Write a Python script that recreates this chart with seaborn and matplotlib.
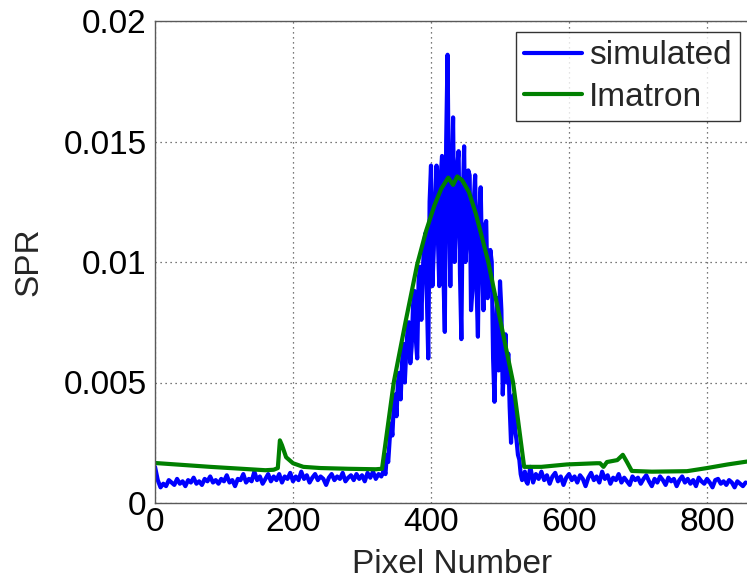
import numpy as np
import pandas as pd
import matplotlib
matplotlib.use("Agg")
import matplotlib.pyplot as plt
import seaborn as sns

# ---------------- data ----------------
# simulated SPR: baseline segments sampled every 4 pixels, peak every 2 pixels
sim_left = [0.00150, 0.00095, 0.00065, 0.00080, 0.00070, 0.00095, 0.00085, 0.00075, 0.00100, 0.00080,
            0.00090, 0.00070, 0.00095, 0.00085, 0.00105, 0.00080, 0.00090, 0.00075, 0.00100, 0.00090,
            0.00110, 0.00085, 0.00095, 0.00080, 0.00100, 0.00090, 0.00115, 0.00085, 0.00095, 0.00070,
            0.00100, 0.00095, 0.00120, 0.00085, 0.00100, 0.00090, 0.00130, 0.00095, 0.00110, 0.00080,
            0.00100, 0.00120, 0.00090, 0.00110, 0.00095, 0.00120, 0.00085, 0.00110, 0.00100, 0.00125,
            0.00090, 0.00110, 0.00095, 0.00130, 0.00100, 0.00115, 0.00085, 0.00105, 0.00120, 0.00095,
            0.00110, 0.00100, 0.00075, 0.00105, 0.00120, 0.00095, 0.00110, 0.00100, 0.00125, 0.00090,
            0.00105, 0.00115, 0.00095, 0.00120, 0.00100, 0.00115, 0.00090, 0.00125, 0.00105, 0.00130,
            0.00100, 0.00120, 0.00110]
sim_peak = [0.00140, 0.00120, 0.00200, 0.00170, 0.00260, 0.00330, 0.00280, 0.00400, 0.00450, 0.00360,
            0.00500, 0.00540, 0.00430, 0.00580, 0.00660, 0.00500, 0.00620, 0.00720, 0.00750, 0.00580,
            0.00650, 0.00820, 0.00880, 0.00680, 0.00600, 0.00920, 0.00980, 0.00760, 0.00950, 0.01080,
            0.01120, 0.00850, 0.00600, 0.01250, 0.01400, 0.00900, 0.01050, 0.01250, 0.01400, 0.01100,
            0.00900, 0.01350, 0.01440, 0.00950, 0.00710, 0.01500, 0.01860, 0.01250, 0.00900, 0.01300,
            0.01600, 0.01000, 0.01150, 0.01400, 0.01460, 0.00950, 0.00680, 0.01250, 0.01480, 0.01000,
            0.01100, 0.01380, 0.01360, 0.00800, 0.00880, 0.01250, 0.01360, 0.00900, 0.00690, 0.01200,
            0.01310, 0.01000, 0.00800, 0.01150, 0.01170, 0.00850, 0.00950, 0.01050, 0.01000, 0.00600,
            0.00420, 0.00700, 0.00850, 0.00550, 0.00920, 0.00800, 0.00450, 0.00600, 0.00700, 0.00500,
            0.00620, 0.00400, 0.00250, 0.00380, 0.00450, 0.00300, 0.00260, 0.00200, 0.00180, 0.00120,
            0.00095, 0.00110, 0.00130, 0.00090, 0.00080]
sim_right = [0.00150, 0.00085, 0.00120, 0.00100, 0.00130, 0.00095, 0.00115, 0.00080, 0.00110, 0.00125,
             0.00090, 0.00110, 0.00075, 0.00105, 0.00120, 0.00095, 0.00110, 0.00085, 0.00115, 0.00100,
             0.00070, 0.00105, 0.00125, 0.00095, 0.00110, 0.00085, 0.00130, 0.00100, 0.00115, 0.00080,
             0.00105, 0.00095, 0.00120, 0.00085, 0.00105, 0.00090, 0.00075, 0.00110, 0.00095, 0.00105,
             0.00080, 0.00100, 0.00115, 0.00090, 0.00070, 0.00100, 0.00085, 0.00110, 0.00095, 0.00075,
             0.00105, 0.00090, 0.00100, 0.00070, 0.00095, 0.00110, 0.00085, 0.00100, 0.00080, 0.00095,
             0.00070, 0.00105, 0.00090, 0.00080, 0.00100, 0.00085, 0.00065, 0.00095, 0.00100, 0.00080,
             0.00090, 0.00075, 0.00095, 0.00085, 0.00065, 0.00090, 0.00080, 0.00070, 0.00085]
sim_left_start, sim_peak_start, sim_right_start = 0, 332, 544
base_step, peak_step = 4, 2

# Imatron SPR profile (pixel, value)
ima_x = [0, 40, 80, 120, 160, 172, 178, 181, 184, 190, 200, 215, 240, 280, 320, 329,
         346, 363, 380, 393, 405, 415, 425, 432, 438, 445, 455, 465, 475, 483, 501, 519, 535,
         560, 597, 640, 645, 650, 655, 670, 678, 684, 691, 720, 771, 800, 830, 858]
ima_y = [0.00166, 0.00158, 0.00150, 0.00143, 0.00136, 0.00138, 0.00145, 0.00260, 0.00240, 0.00190,
         0.00165, 0.00150, 0.00145, 0.00142, 0.00140, 0.00142,
         0.00500, 0.00750, 0.00990, 0.01130, 0.01235, 0.01305, 0.01350, 0.01320, 0.01355, 0.01340,
         0.01290, 0.01200, 0.01090, 0.01000, 0.00750, 0.00500, 0.00150,
         0.00150, 0.00160, 0.00165, 0.00165, 0.00150, 0.00170, 0.00178, 0.00200, 0.00170, 0.00133,
         0.00130, 0.00132, 0.00145, 0.00160, 0.00172]

x_ticks = [0, 200, 400, 600, 800]
y_ticks = [0, 0.005, 0.01, 0.015, 0.02]
y_tick_labels = ["0", "0.005", "0.01", "0.015", "0.02"]
series_names = ["simulated", "Imatron"]

# ---------------- frame ----------------
sim_x = np.concatenate([sim_left_start + base_step * np.arange(len(sim_left)),
                        sim_peak_start + peak_step * np.arange(len(sim_peak)),
                        sim_right_start + base_step * np.arange(len(sim_right))])
sim_y = np.array(sim_left + sim_peak + sim_right)
df = pd.concat([
    pd.DataFrame({"x": sim_x, "y": sim_y, "series": series_names[0]}),
    pd.DataFrame({"x": ima_x, "y": ima_y, "series": series_names[1]}),
], ignore_index=True)

sns.set_style("white")
plt.rcParams["font.family"] = ["Liberation Sans", "DejaVu Sans"]

W, H = 747, 582
fig = plt.figure(figsize=(W / 100, H / 100), dpi=100)
left_px, top_px, bottom_px = 155, 21, 503
xmax = 860
right_px = left_px + xmax * 0.69
ax = fig.add_axes([left_px / W, 1 - bottom_px / H, (right_px - left_px) / W, (bottom_px - top_px) / H])

palette = {series_names[0]: "#0000ff", series_names[1]: "#008000"}
sns.lineplot(data=df[df.series == series_names[0]], x="x", y="y", color=palette[series_names[0]],
             estimator=None, sort=False, lw=3.0, ax=ax, label=series_names[0])
sns.lineplot(data=df[df.series == series_names[1]], x="x", y="y", color=palette[series_names[1]],
             estimator=None, sort=False, lw=3.0, ax=ax, label=series_names[1])

fs = 24
ax.set_xlim(0, xmax)
ax.set_ylim(0, 0.02)
ax.set_xticks(x_ticks)
ax.set_xticklabels([str(t) for t in x_ticks])
ax.set_yticks(y_ticks)
ax.set_yticklabels(y_tick_labels)
ax.grid(True, linestyle=(0, (1, 3)), color="0.3", linewidth=0.9)
ax.tick_params(axis="both", direction="in", length=5, width=0.8, labelsize=fs, colors="0.3",
               labelcolor="black")
ax.tick_params(axis="x", pad=3)
ax.tick_params(axis="y", pad=6)
for s in ax.spines.values():
    s.set_color("0.35")
    s.set_linewidth(1.0)

ax.set_xlabel("Pixel Number", fontsize=fs, labelpad=8)
ax.set_ylabel("SPR", fontsize=fs, labelpad=14)

leg = ax.legend(loc="upper right", bbox_to_anchor=(740 / W, 1 - 32 / H), bbox_transform=fig.transFigure,
                borderaxespad=0, fontsize=fs, frameon=True, fancybox=False, edgecolor="black",
                handlelength=1.75, handletextpad=0.2, labelspacing=0.32, borderpad=0.25)
leg.get_frame().set_linewidth(1.0)
for h in leg.get_lines():
    h.set_linewidth(3)

fig.savefig("out.png", dpi=100)
